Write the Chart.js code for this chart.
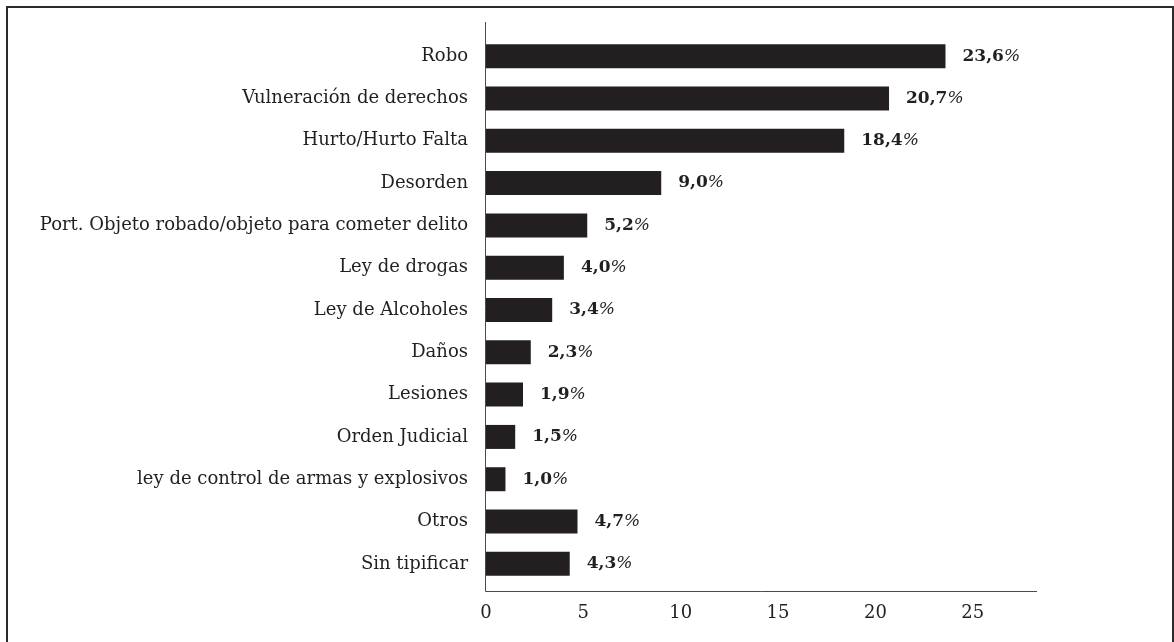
<!DOCTYPE html>
<html>
<head>
<meta charset="utf-8">
<script src="https://cdn.jsdelivr.net/npm/chart.js@4.4.1/dist/chart.umd.min.js"></script>
<style>
    body { margin: 0; background: #fff; }
    #wrap { position: relative; width: 1174px; height: 642px; overflow: hidden; }
    #frame {
        position: absolute; left: 6px; top: 6px; width: 1164px; height: 700px;
        border: 2px solid #2b2b2b; box-sizing: content-box;
    }
    canvas { position: absolute; left: 0; top: 0; }
</style>
</head>
<body>
<div id="wrap">
    <div id="frame"></div>
    <canvas id="crimeChart" width="1174" height="642"></canvas>
</div>
<script>
const categories = [
    'Robo',
    'Vulneración de derechos',
    'Hurto/Hurto Falta',
    'Desorden',
    'Port. Objeto robado/objeto para cometer delito',
    'Ley de drogas',
    'Ley de Alcoholes',
    'Daños',
    'Lesiones',
    'Orden Judicial',
    'ley de control de armas y explosivos',
    'Otros',
    'Sin tipificar'
];
const percentages = [23.6, 20.7, 18.4, 9.0, 5.2, 4.0, 3.4, 2.3, 1.9, 1.5, 1.0, 4.7, 4.3];
const xTicks = [0, 5, 10, 15, 20, 25];

const serif = '"DejaVu Serif", "Liberation Serif", serif';

// axis lines in the original run a little past the bars at both ends
const axisLines = {
    id: 'axisLines',
    afterDraw(chart) {
        const { ctx, chartArea } = chart;
        ctx.save();
        ctx.strokeStyle = '#4a4a4a';
        ctx.lineWidth = 1;
        ctx.beginPath();
        ctx.moveTo(chartArea.left - 0.5, chartArea.top - 13);
        ctx.lineTo(chartArea.left - 0.5, chartArea.bottom + 6.5);
        ctx.lineTo(chartArea.right, chartArea.bottom + 6.5);
        ctx.stroke();
        ctx.restore();
    }
};

// value labels: bold number, plain slanted percent sign
const valueLabels = {
    id: 'valueLabels',
    afterDatasetsDraw(chart) {
        const { ctx } = chart;
        const meta = chart.getDatasetMeta(0);
        ctx.save();
        ctx.fillStyle = '#231f20';
        ctx.textBaseline = 'middle';
        meta.data.forEach((bar, i) => {
            const num = percentages[i].toFixed(1).replace('.', ',');
            const x = bar.x + 17;
            ctx.font = 'bold 17px ' + serif;
            ctx.fillText(num, x, bar.y);
            const w = ctx.measureText(num).width;
            ctx.font = 'italic 17px ' + serif;
            ctx.fillText('%', x + w, bar.y);
        });
        ctx.restore();
    }
};

const ctx = document.getElementById('crimeChart').getContext('2d');
new Chart(ctx, {
    type: 'bar',
    data: {
        labels: categories,
        datasets: [{
            data: percentages,
            backgroundColor: '#231f20',
            borderWidth: 0,
            categoryPercentage: 1,
            barPercentage: 0.567
        }]
    },
    options: {
        indexAxis: 'y',
        responsive: false,
        animation: false,
        events: [],
        layout: {
            padding: { top: 35, right: 137, left: 0, bottom: 0 }
        },
        plugins: {
            legend: { display: false },
            tooltip: { enabled: false }
        },
        scales: {
            x: {
                min: 0,
                max: 28.3,
                grid: { display: false, drawTicks: false },
                border: { display: false },
                afterBuildTicks(scale) {
                    scale.ticks = xTicks.map(v => ({ value: v }));
                },
                afterFit(scale) { scale.height = 57; },
                ticks: {
                    padding: 18,
                    color: '#231f20',
                    font: { family: serif, size: 18 }
                }
            },
            y: {
                grid: { display: false, drawTicks: false },
                border: { display: false },
                afterFit(scale) { scale.width = 486; },
                ticks: {
                    padding: 18,
                    color: '#231f20',
                    font: { family: serif, size: 18 }
                }
            }
        }
    },
    plugins: [axisLines, valueLabels]
});
</script>
</body>
</html>
